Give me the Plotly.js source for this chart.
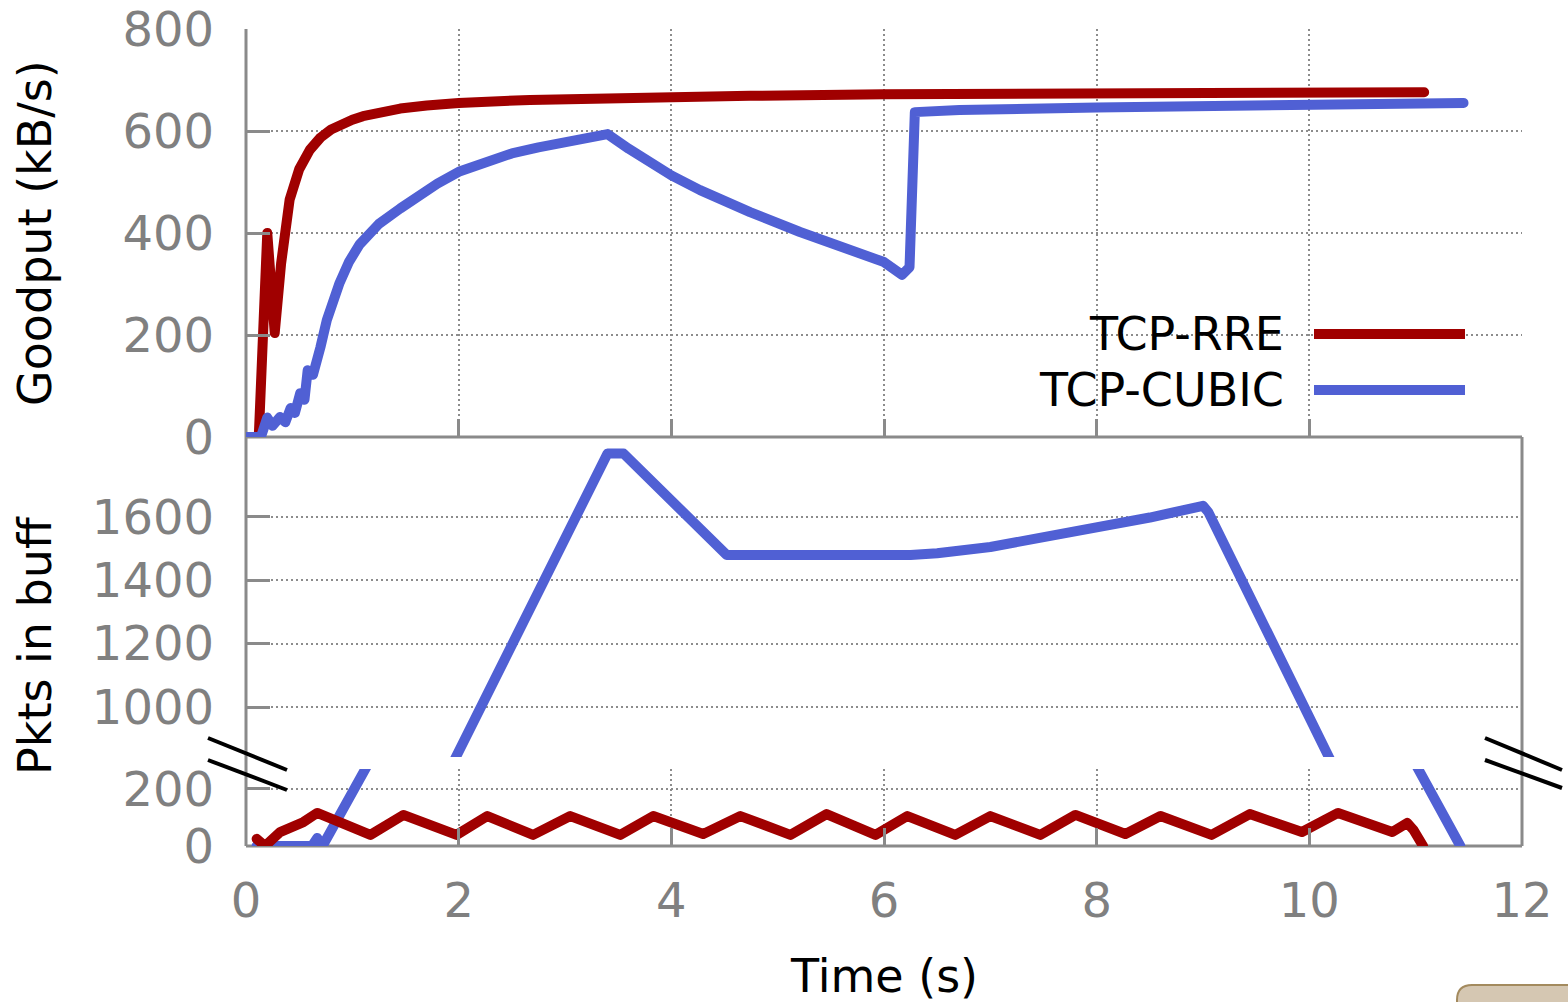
<!DOCTYPE html>
<html>
<head>
<meta charset="utf-8">
<script src="https://cdn.plot.ly/plotly-3.0.1.min.js"></script>
<style>
  html, body { margin: 0; padding: 0; background: #fff; }
  #chart { width: 1568px; height: 1002px; }
  .scatterlayer path.js-line { stroke-linecap: round; stroke-linejoin: round; }
</style>
</head>
<body>
<div id="chart"></div>
<script>
// ---------- data ----------
const seriesNames = ['TCP-RRE', 'TCP-CUBIC'];

// Goodput (kB/s) vs time (s)
const rreGoodputT = [0.12, 0.2, 0.27, 0.33, 0.41, 0.5, 0.6, 0.7, 0.8, 0.9, 1.0, 1.1, 1.25, 1.45, 1.7, 2.0, 2.67, 3.33, 4.74, 6.0, 8.0, 11.08];
const rreGoodputV = [0, 400, 204, 340, 465, 525, 563, 587, 603, 614, 622, 629, 637, 644, 650, 655, 661, 665, 669, 672, 674, 676];

const cubicGoodputT = [0.0, 0.14, 0.2, 0.25, 0.32, 0.37, 0.42, 0.46, 0.51, 0.55, 0.58, 0.63, 0.7, 0.76, 0.88, 0.97, 1.07, 1.25, 1.45, 1.64, 1.8, 2.0, 2.25, 2.5, 2.75, 3.0, 3.4, 3.6, 3.8, 4.0, 4.27, 4.5, 4.74, 5.21, 5.68, 6.0, 6.17, 6.24, 6.29, 6.71, 8.0, 10.0, 11.45];
const cubicGoodputV = [0, 0, 38, 22, 39, 29, 57, 47, 86, 73, 131, 122, 176, 229, 302, 344, 378, 418, 448, 476, 497, 520, 540, 556, 568, 578, 594, 565, 538, 513, 484, 461, 441, 402, 367, 343, 318, 333, 637, 641, 646, 652, 655];

// Packets in buffer vs time (s)
const rreBuffT = [0.1, 0.18, 0.32, 0.54, 0.67, 1.17, 1.48, 1.98, 2.27, 2.70, 3.05, 3.52, 3.83, 4.30, 4.65, 5.12, 5.46, 5.92, 6.22, 6.67, 7.00, 7.47, 7.80, 8.27, 8.60, 9.08, 9.44, 9.93, 10.27, 10.78, 10.92, 10.98, 11.07];
const rreBuffV = [25, 0, 49, 84, 116, 39, 109, 39, 105, 39, 105, 39, 105, 42, 105, 39, 112, 39, 105, 39, 105, 39, 109, 42, 105, 39, 112, 49, 116, 49, 81, 56, 0];

const cubicBuffT = [0.1, 0.62, 0.67, 0.72, 3.40, 3.55, 4.52, 6.25, 6.5, 7.0, 7.5, 8.0, 8.5, 9.0, 9.05, 11.42];
const cubicBuffV = [0, 0, 28, 0, 1800, 1800, 1480, 1480, 1485, 1505, 1535, 1565, 1598, 1635, 1615, 0];

// axis ticks
const timeTicks = [0, 2, 4, 6, 8, 10, 12];
const goodputTicks = [0, 200, 400, 600, 800];
const buffHighTicks = [1000, 1200, 1400, 1600];
const buffLowTicks = [0, 200];

// ---------- styling ----------
const RED = '#a00000';
const BLUE = '#5060d4';
const AXIS = '#8a8a8a';
const GRID = '#8c8c8c';
const LABEL = '#808080';
const FONT = 'DejaVu Sans, sans-serif';
const LW = 10;

// pixel -> paper helpers (plot area: x 246..1522, y 29..846)
const L = 246, R = 1522, T = 29, B = 846;
const px = v => (v - L) / (R - L);
const py = v => (B - v) / (B - T);

const traces = [
  {x: rreGoodputT, y: rreGoodputV, xaxis: 'x2', yaxis: 'y', mode: 'lines', name: seriesNames[0],
   line: {color: RED, width: LW}, showlegend: false, hoverinfo: 'skip'},
  {x: cubicGoodputT, y: cubicGoodputV, xaxis: 'x2', yaxis: 'y', mode: 'lines', name: seriesNames[1],
   line: {color: BLUE, width: LW}, showlegend: false, hoverinfo: 'skip'},
  // buffer, upper broken part
  {x: cubicBuffT, y: cubicBuffV, xaxis: 'x3', yaxis: 'y2', mode: 'lines', name: seriesNames[1],
   line: {color: BLUE, width: LW}, showlegend: false, hoverinfo: 'skip'},
  // buffer, lower broken part
  {x: cubicBuffT, y: cubicBuffV, xaxis: 'x', yaxis: 'y3', mode: 'lines', name: seriesNames[1],
   line: {color: BLUE, width: LW}, showlegend: false, hoverinfo: 'skip'},
  {x: rreBuffT, y: rreBuffV, xaxis: 'x', yaxis: 'y3', mode: 'lines', name: seriesNames[0],
   line: {color: RED, width: LW}, showlegend: false, hoverinfo: 'skip'}
];

const tickFont = {family: FONT, size: 48, color: LABEL};
const divY = py(437);

const common = {
  ticks: 'inside', tickwidth: 3, tickcolor: AXIS,
  showline: false, zeroline: false,
  gridcolor: GRID, gridwidth: 2, griddash: '2px,3px',
  tickfont: tickFont, fixedrange: true
};

const layout = {
  width: 1568, height: 1002,
  margin: {l: L, r: 1568 - R, t: T, b: 1002 - B},
  paper_bgcolor: '#ffffff', plot_bgcolor: 'rgba(0,0,0,0)',
  font: {family: FONT, size: 46, color: '#000'},
  showlegend: false,
  xaxis: Object.assign({}, common, {
    anchor: 'y3', range: [0, 12], tickmode: 'array', tickvals: timeTicks,
    ticklen: 18, showgrid: true, ticklabelstandoff: 22
  }),
  xaxis2: Object.assign({}, common, {
    anchor: 'y', matches: 'x', range: [0, 12], tickmode: 'array', tickvals: timeTicks,
    ticklen: 18, showgrid: true, showticklabels: false
  }),
  xaxis3: Object.assign({}, common, {
    anchor: 'y2', matches: 'x', range: [0, 12], ticks: '', showgrid: false, showticklabels: false
  }),
  yaxis: Object.assign({}, common, {
    domain: [divY, 1], range: [0, 800], tickmode: 'array', tickvals: goodputTicks,
    ticklen: 24, showgrid: true, ticklabelstandoff: 31
  }),
  yaxis2: Object.assign({}, common, {
    domain: [py(757), divY], range: [842.5, 1852], tickmode: 'array', tickvals: buffHighTicks,
    ticklen: 24, showgrid: true, ticklabelstandoff: 31
  }),
  yaxis3: Object.assign({}, common, {
    domain: [0, py(769)], range: [0, 270], tickmode: 'array', tickvals: buffLowTicks,
    ticklen: 24, showgrid: true, ticklabelstandoff: 31
  }),
  shapes: [
    // legend background
    {type: 'rect', xref: 'paper', yref: 'paper', x0: px(1007), x1: px(1490), y0: py(415), y1: py(307),
     fillcolor: '#ffffff', line: {width: 0}, layer: 'between'},
    // frame lines
    {type: 'line', xref: 'paper', yref: 'paper', x0: 0, x1: 0, y0: 0, y1: 1, line: {color: AXIS, width: 3}, layer: 'between'},
    {type: 'line', xref: 'paper', yref: 'paper', x0: 0, x1: 1, y0: 0, y1: 0, line: {color: AXIS, width: 3}, layer: 'between'},
    {type: 'line', xref: 'paper', yref: 'paper', x0: 0, x1: 1, y0: divY, y1: divY, line: {color: AXIS, width: 3}, layer: 'between'},
    {type: 'line', xref: 'paper', yref: 'paper', x0: 1, x1: 1, y0: 0, y1: divY, line: {color: AXIS, width: 3}, layer: 'between'},
    // axis break marks
    {type: 'line', xref: 'paper', yref: 'paper', x0: px(208), y0: py(738), x1: px(287), y1: py(770), line: {color: '#000', width: 4}},
    {type: 'line', xref: 'paper', yref: 'paper', x0: px(208), y0: py(760), x1: px(287), y1: py(790), line: {color: '#000', width: 4}},
    {type: 'line', xref: 'paper', yref: 'paper', x0: px(1485), y0: py(738), x1: px(1562), y1: py(770), line: {color: '#000', width: 4}},
    {type: 'line', xref: 'paper', yref: 'paper', x0: px(1485), y0: py(760), x1: px(1562), y1: py(788), line: {color: '#000', width: 4}},
    // legend samples
    {type: 'line', xref: 'paper', yref: 'paper', x0: px(1314), x1: px(1465), y0: py(334), y1: py(334), line: {color: RED, width: LW}},
    {type: 'line', xref: 'paper', yref: 'paper', x0: px(1314), x1: px(1465), y0: py(390), y1: py(390), line: {color: BLUE, width: LW}},
    // corner widget
    {type: 'path', xref: 'paper', yref: 'paper',
     path: 'M ' + px(1457) + ',' + py(1012) + ' L ' + px(1457) + ',' + py(1000) +
           ' Q ' + px(1457) + ',' + py(985) + ' ' + px(1472) + ',' + py(985) +
           ' L ' + px(1580) + ',' + py(985) + ' L ' + px(1580) + ',' + py(1012) + ' Z',
     fillcolor: '#d5c7b2', line: {color: '#a38a5e', width: 2}}
  ],
  annotations: [
    {xref: 'paper', yref: 'paper', x: px(35), y: py(233), text: 'Goodput (kB/s)', textangle: -90,
     showarrow: false, xanchor: 'center', yanchor: 'middle', font: {family: FONT, size: 46, color: '#000'}},
    {xref: 'paper', yref: 'paper', x: px(35), y: py(646), text: 'Pkts in buff', textangle: -90,
     showarrow: false, xanchor: 'center', yanchor: 'middle', font: {family: FONT, size: 46, color: '#000'}},
    {xref: 'paper', yref: 'paper', x: px(884), y: py(947), text: 'Time (s)',
     showarrow: false, xanchor: 'center', yanchor: 'top', font: {family: FONT, size: 46, color: '#000'}},
    {xref: 'paper', yref: 'paper', x: px(1286), y: py(334), text: seriesNames[0],
     showarrow: false, xanchor: 'right', yanchor: 'middle', font: {family: FONT, size: 46, color: '#000'}},
    {xref: 'paper', yref: 'paper', x: px(1286), y: py(390), text: seriesNames[1],
     showarrow: false, xanchor: 'right', yanchor: 'middle', font: {family: FONT, size: 46, color: '#000'}}
  ]
};

Plotly.newPlot('chart', traces, layout, {staticPlot: true, displayModeBar: false});
</script>
</body>
</html>
